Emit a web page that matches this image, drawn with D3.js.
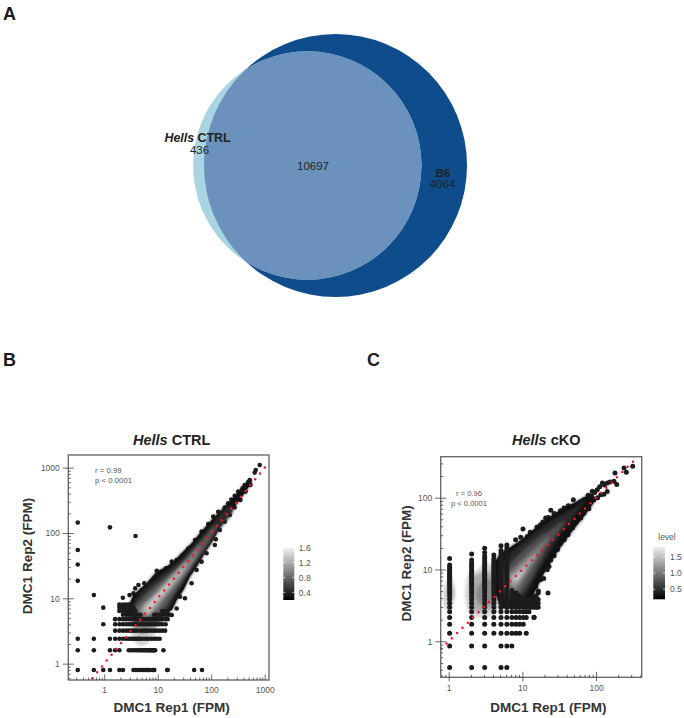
<!DOCTYPE html>
<html><head><meta charset="utf-8">
<script src="https://cdn.jsdelivr.net/npm/d3@7"></script>
<style>html,body{margin:0;padding:0;background:#fff}svg{display:block}text{font-family:"Liberation Sans",Arial,sans-serif}</style>
</head><body><svg id="c" width="684" height="718"></svg>
<script>
// ---------- Venn ----------
const vennOnlyCtrl = 436, vennShared = 10697, vennOnlyB6 = 4064;

// ---------- Hells CTRL (FPM) ----------
const ctrlXDomain = [0.213, 1203], ctrlYDomain = [0.562, 1563];
const ctrlRowY = [0.8, 1.6, 2.4, 3.2, 4, 4.8, 5.6, 6.4, 7.2, 8];
const ctrlRowX = [
 [0.32,0.64,0.96,1.28,1.92,2.24,3.52,3.84,4.16,4.48,4.8,5.12,5.44,5.76,6.08,6.4,6.72,7.04,8,8.32,8.64,15.04,15.36,48,67.2],
 [0.32,0.64,1.28,1.6,1.92,2.88,3.2,3.52,3.84,4.16,4.48,4.8,5.12,5.44,5.76,6.08,6.4,6.72,7.04,7.36,7.68,8,8.32,8.64,8.96,12.8],
 [0.32,0.64,1.28,1.6,1.92,2.24,2.56,2.88,3.2,3.52,3.84,4.16,4.48,4.8,5.44,6.08,6.72,7.68,8.64,9.6,10.88],
 [1.6,1.92,2.24,2.56,2.88,3.2,3.52,3.84,4.16,4.8,5.44,6.08,6.72,7.68,8.64,9.6,10.88,12.16,13.76],
 [0.96,1.6,1.92,2.24,2.56,2.88,3.2,3.52,3.84,4.16,4.8,5.44,6.08,6.72,7.68,8.64,9.6,10.88,12.16,14.08],
 [1.6,1.92,2.24,2.56,2.88,3.2,3.52,3.84,4.16,4.8,5.44,6.08,6.72,7.68,8.64,9.6,10.88,12.16,13.76,15.36],
 [2.24,2.56,2.88,3.2,3.52,3.84,4.16,4.8,8.64,9.6,10.88,12.16,13.76,15.36,17],
 [1.92,2.24,2.56,2.88,3.2,3.52,3.84,12.16,13.76,15.36],
 [1.92,2.24,2.56,2.88,3.2,3.52],
 [1.92,2.24,2.56,2.88,3.2]
];
const ctrlEdge = [[0.32,145],[0.32,55],[0.32,33],[0.32,18.5],[1.28,122],[3.84,90],[0.64,11.2],[0.96,7.2],[2.23,10.2],
 [2.97,11.2],[3.52,11.9],[3.79,14.2],[4.36,16],[5.03,13.4],[5.6,17],[7.2,17.3],[9.58,26.4],[11.05,22.8],[14.3,28.8],[18.3,36.4],[22.6,38.6],[29.3,46],[37.3,58],[49.8,78],[66,105],[88,137],[109,178],[135,212],[179,245],[207,284],[238,326],[275,372],[320,430],[385,485],[422,540],[490,600],[525,647],
 [18.3,5.56],[22.6,7],[32.3,10],[26.1,10.6],[43,17],[53.3,27.2],[66,36.4],[81.8,48.9],[117,65.5],[122,80],[145,111],[179,149],[223,189],[275,246],[352,320],[440,430],[543,543],
 [680,921],[807,1100],[650,840]];
const ctrlBlack = [[2.84,7.45],[3.52,11.2],[6.24,17],[9.58,25.6],[14.7,30.5],[19.6,36.4],[26.1,46],[34.7,58.2],[46.2,73.7],[61.5,99],[81.8,128],[109,168],[145,212],[193,268],[257,340],[342,455],[455,576],[565,662],[565,576],[455,455],[342,320],[257,239],[193,178],[145,125],[109,78],[81.8,55],[53.3,30.5],[40,21.5],[30.1,13.4],[22.6,9.4],[18.3,6.6],[11,5.6],[4.69,5.6],[3.28,5.6]];
const ctrlLobes = [
 {shade:"#d2d2d2", pts:[[3.28,3.47],[4.69,4.66],[9.58,4.66],[9.58,3.47],[8.3,2.59],[6.24,2],[5.03,1.86],[4.06,2],[3.28,2.59]]},
 {shade:"#9a9a9a", pts:[[3.52,4.66],[6.24,5.24],[11.05,4.66],[9.58,3.68],[6.24,2.91],[4.69,2.78],[3.7,3.47]]},
 {shade:"#555555", pts:[[3.15,5.24],[11.05,5.9],[12.8,4.66],[8.3,4],[5.41,3.68],[3.7,4.14]]}];
const ctrlLevels = [
 {shade:"#2a2a2a", pts:[[3.05,6.25],[4.69,11.9],[9.58,20.2],[26.1,38.6],[81.8,105],[223,268],[257,225],[109,88],[46.2,30.5],[22.6,11.9],[12.8,5.56],[4.69,5.24]]},
 {shade:"#555555", pts:[[3.52,6.6],[5.41,10.6],[11.05,18],[26.1,32.4],[71,82.9],[126,133],[94.4,73.7],[40,27.2],[19.6,11.2],[11.05,5.9],[5.41,4.94]]},
 {shade:"#808080", pts:[[4.36,6.6],[7.2,10.6],[14.7,19.1],[34.7,38.6],[61.5,65.5],[46.2,36.4],[26.1,19.1],[14.7,10.6],[8.9,6.25],[5.41,5.24]]},
 {shade:"#a8a8a8", pts:[[5.03,6.6],[9.58,11.9],[19.6,22.8],[34.7,36.4],[30.1,25.6],[17,14.2],[9.58,7.9],[6.24,5.56]]},
 {shade:"#c8c8c8", pts:[[6.06,7],[11.05,12.6],[19.6,20.2],[14.7,13.4],[8.9,8.4],[6.7,5.9]]}];
const ctrlXTicks = [1,10,100,1000], ctrlYTicks = [1,10,100,1000];
const ctrlLegendTicks = [0.4,0.8,1.2,1.6], ctrlLegendDomain = [0.195,1.59];

// ---------- Hells cKO (FPM) ----------
const koXDomain = [0.779, 417], koYDomain = [0.315, 372];
const koColX = [1.03,2.05,3.08,4.1,5.13,6.16,7.2,8.2,9.2,10.3,11.3,12.3,13.3,14.4,15.4,16.4];
const koColY = [
 [0.43,0.86,1.29,1.73,2.14,2.57,2.98,3.39,3.83,4.26,4.69,5.1,5.55,6,6.4,6.8,7.3,7.7,8.1,8.5,9,9.4,10,10.7,11.5,14.2],
 [0.43,0.86,1.29,1.73,2.14,2.57,2.98,3.39,3.83,4.26,4.69,5.1,5.55,6,6.4,6.8,7.3,7.7,8.1,8.5,9,9.4,10,10.7,11.5,12.3,13.6,16.4],
 [0.43,0.86,1.29,1.73,2.14,2.57,2.98,3.39,3.83,4.26,4.69,5.1,5.55,6,6.4,6.8,7.3,7.7,8.1,8.5,9,9.4,10,10.7,11.5,12.3,13.2,14.2,15.4,17.2,19.8],
 [1.29,1.73,2.14,2.57,2.98,3.39,3.83,4.26,4.69,5.1,5.55,6,6.4,6.8,7.3,7.7,8.1,8.5,9,9.4,10,10.7,11.5,12.3,13.2,14.2,15.9],
 [0.43,0.86,1.29,1.73,2.14,2.57,2.98,3.39,3.83,4.26,4.69,5.1,5.55,6,6.4,6.8,7.3,7.7,8.1,8.5,9,9.4,10,10.7,11.5,12.3,13.2,14.2,15.4,16.8,18.4,21.4],
 [0.43,0.86,1.29,1.73,2.14,2.57,2.98,3.39,3.83,4.26,4.69,5.1,5.55,6,6.4,6.8,7.3,7.7,8.1,8.5,9,9.4,10,10.7,11.5,12.3,13.2,14.2,15.4,16.8,18.4,20,22],
 [0.86,1.29,1.73,2.14,2.57,2.98,3.39,3.83,4.26,4.69,5.1],
 [1.29,1.73,2.14,2.57,2.98,3.39,3.83,4.26,4.69],
 [1.29,1.73,2.14,2.57,2.98,3.39,3.83,4.26],
 [1.73,2.14,2.57,2.98,3.39,3.83],
 [1.29,2.14,2.57,2.98,3.39,3.83],
 [2.57,2.98,3.39,3.83],
 [2.98,3.39,3.83],
 [2.14,2.98,3.39,3.83,4.26],
 [2.98,3.39,3.83,4.26],
 [2.98,3.39,3.83,4.69]];
const koEdge = [[10.2,36.5],[11.7,28.9],[14.4,32],[17.7,42],[20.7,52],[24.3,66.6],[31.5,59],[49.2,93.8],[36.8,71.8],[55.8,79.9],[68.7,93.8],[89,122.6],[104,129],[122,160],[142,160],[175,169],[181,221],[240,259],[258,226],[315,274],
 [8.1,26],[9.5,28],[12.8,33],[15.8,39],[19,46],[22.5,53],[27,60],[33,66],[42,77],[62,88],[78,108],[96,118],[112,142],[130,150],[155,165],
 [22.3,4.72],[16,3.05],[14.4,2.16],[13.7,4.2],[15.2,5.8],[17.7,7.2],[21.8,9.9],[24.3,13.6],[33.1,23.3],[41.7,30.5],[55.8,49.3],[68.7,61],[94,93.8],[116,110],[142,122],[191,152],
 [16.5,5],[19.5,7.5],[23,11],[27,15.5],[30,19],[37,26],[48,38],[62,52],[80,70],[105,100],[128,112]];
const koBlack = [[3.92,11],[5.08,16.9],[6.59,19.8],[10.5,27.4],[16,39.8],[24.3,55],[36.8,71.8],[55.8,88.9],[89.1,116],[98.9,93.8],[68.7,55],[45.3,32.1],[29.9,17.8],[19.7,8.9],[14.4,4.68],[11.1,3.39],[7.7,2.89],[5.08,2.89],[4.35,4.68]];
const koLobes = [
 {shade:"#d5d5d5", pts:[[1.04,8.4],[1.24,4.9],[1.09,2.74],[1.04,2.59],[0.88,2.89],[0.85,4.9]]},
 {shade:"#a8a8a8", pts:[[1.04,6.4],[1.16,4.8],[1.04,3.39],[0.94,4.8]]},
 {shade:"#d8d8d8", pts:[[1.67,5.2],[1.89,8.9],[2.33,9.4],[3.02,12.2],[4.12,11],[5.64,7.2],[5.08,2.74],[3.35,2.21],[2.1,2.21],[1.75,3.05]]},
 {shade:"#ababab", pts:[[1.89,5.2],[2.21,8],[3.02,9.4],[3.92,8.9],[5.08,5.8],[4.12,3.05],[3.02,2.59],[2.1,2.74]]},
 {shade:"#888888", pts:[[2.33,4.68],[3.02,7.2],[3.92,7.2],[4.58,5.2],[3.71,3.39],[2.72,3.2]]}];
const koLevels = [
 {shade:"#2a2a2a", pts:[[5.08,11],[6.95,16.9],[13,28.9],[24.3,46.7],[45.3,68],[70,90],[52,57.9],[33.1,31],[21.8,15.2],[14.4,7.2],[10.5,4.2],[6.95,3.39],[5.35,4.2]]},
 {shade:"#505050", pts:[[5.64,8.9],[7.7,13.6],[14.4,24.6],[26.9,38],[38,48],[32,36],[23,22.1],[16,11],[11.7,6.1],[8.55,4.2],[6.25,4.2]]},
 {shade:"#787878", pts:[[6.25,8],[8.55,11.6],[16,20.9],[24,29],[20,22.1],[14.4,12.2],[10.5,7.2],[8.12,4.9],[6.59,5.2]]},
 {shade:"#a0a0a0", pts:[[6.73,7.6],[9.01,10.4],[14,15.5],[16,16.5],[13,12.2],[9.49,7.2],[7.7,5.8]]},
 {shade:"#c0c0c0", pts:[[7.32,7.6],[9.49,9.4],[11.1,10.4],[9.49,8],[8.12,6.8]]}];
const koXTicks = [1,10,100], koYTicks = [1,10,100];
const koLegendTicks = [0.5,1.0,1.5], koLegendDomain = [0.19,1.81];

const svg = d3.select("#c");
const defs = svg.append("defs");
const blur = defs.append("filter").attr("id","soft").attr("x","-20%").attr("y","-20%").attr("width","140%").attr("height","140%");
blur.append("feGaussianBlur").attr("stdDeviation",1.6);
const txt = (g,x,y,s,o={})=>g.append("text").attr("x",x).attr("y",y).text(s)
  .attr("text-anchor",o.anchor||"middle").attr("font-size",o.size||11).attr("font-weight",o.weight||"normal")
  .attr("fill",o.fill||"#222");

// letters
[["A",3,20],["B",3,366],["C",367,366]].forEach(([s,x,y])=>txt(svg,x,y,s,{anchor:"start",size:18,weight:"bold",fill:"#1a1a1a"}));

// ---------- Venn drawing ----------
const rScale = d3.scaleSqrt().domain([0, vennOnlyB6+vennShared]).range([0,131.5]);
const rB6 = rScale(vennOnlyB6+vennShared), rCtrl = rScale(vennOnlyCtrl+vennShared);
defs.append("clipPath").attr("id","b6clip").append("circle").attr("cx",335.5).attr("cy",165.5).attr("r",rB6);
svg.append("circle").attr("cx",335.5).attr("cy",165.5).attr("r",rB6).attr("fill","#0e4c8c");
svg.append("circle").attr("cx",307.3).attr("cy",165.5).attr("r",rCtrl).attr("fill","#a9d5e3");
svg.append("circle").attr("cx",307.3).attr("cy",165.5).attr("r",rCtrl).attr("fill","#6b92bd").attr("clip-path","url(#b6clip)");
const hv = svg.append("text").attr("x",164.5).attr("y",142).attr("font-size",12.4).attr("font-weight","bold").attr("fill","#222");
hv.append("tspan").attr("font-style","italic").text("Hells");
hv.append("tspan").text(" CTRL");
txt(svg,199.5,153.5,d3.format("d")(vennOnlyCtrl),{size:11.5});
txt(svg,313,170,d3.format("d")(vennShared),{size:11.5});
txt(svg,443,176.5,"B6",{size:11.5,weight:"bold"});
txt(svg,442.5,187.5,d3.format("d")(vennOnlyB6),{size:11.5});

// ---------- scatter panels ----------
function panel(o){
  const x = d3.scaleLog().domain(o.xDomain).range([o.left,o.right]);
  const y = d3.scaleLog().domain(o.yDomain).range([o.bottom,o.top]);
  const g = svg.append("g");
  const cid = "clip"+o.id;
  defs.append("clipPath").attr("id",cid).append("rect").attr("x",o.left).attr("y",o.top).attr("width",o.right-o.left).attr("height",o.bottom-o.top);
  const blob = d3.line().x(d=>x(d[0])).y(d=>y(d[1])).curve(d3.curveCatmullRomClosed.alpha(0.5));
  const poly = d3.line().x(d=>x(d[0])).y(d=>y(d[1])).curve(d3.curveLinearClosed);
  const plot = g.append("g").attr("clip-path",`url(#${cid})`);

  const soft = plot.append("g").attr("filter","url(#soft)");
  soft.selectAll("path.lobe").data(o.lobes).join("path").attr("class","lobe").attr("d",d=>blob(d.pts)).attr("fill",d=>d.shade);
  soft.append("path").attr("d",poly(o.black)).attr("fill","#111");
  plot.selectAll("circle.edge").data(o.edge).join("circle").attr("class","edge")
    .attr("cx",d=>x(d[0])).attr("cy",d=>y(d[1])).attr("r",o.r).attr("fill","#1c1c1c");
  plot.append("path").attr("d",poly(o.black)).attr("fill","#111");
  const soft2 = plot.append("g").attr("filter","url(#soft)");
  soft2.selectAll("path.level").data(o.levels).join("path").attr("class","level").attr("d",d=>blob(d.pts)).attr("fill",d=>d.shade);
  plot.selectAll("circle.pt").data(o.grid).join("circle").attr("class","pt")
    .attr("cx",d=>x(d[0])).attr("cy",d=>y(d[1])).attr("r",o.r).attr("fill","#1c1c1c");

  // red dotted identity line
  plot.append("line").attr("x1",x(o.redFrom)).attr("y1",y(o.redFrom)).attr("x2",x(o.redTo)).attr("y2",y(o.redTo))
    .attr("stroke","#ff1420").attr("stroke-width",2.5).attr("stroke-linecap","round").attr("stroke-dasharray","0 "+o.redGap);

  // frame
  g.append("rect").attr("x",o.left).attr("y",o.top).attr("width",o.right-o.left).attr("height",o.bottom-o.top)
    .attr("fill","none").attr("stroke","#6b6b6b").attr("stroke-width",1.4);

  const style = a=>{a.select(".domain").remove();a.selectAll("line").attr("stroke","#444").attr("stroke-width",0.8);
    a.selectAll("text").attr("fill","#555").attr("font-size",8.5).attr("font-family",'"Liberation Sans",Arial,sans-serif');};
  const fmt = d3.format("d");
  const minorX = x.ticks().filter(d=>!o.xTicks.includes(d)), minorY = y.ticks().filter(d=>!o.yTicks.includes(d));
  g.append("g").attr("transform",`translate(0,${o.bottom})`).call(d3.axisBottom(x).tickValues(minorX).tickFormat("").tickSizeOuter(0).tickSize(-2.5)).call(style);
  g.append("g").attr("transform",`translate(${o.left},0)`).call(d3.axisLeft(y).tickValues(minorY).tickFormat("").tickSizeOuter(0).tickSize(-2.5)).call(style);
  g.append("g").attr("transform",`translate(0,${o.bottom})`).call(d3.axisBottom(x).tickValues(o.xTicks).tickFormat("").tickSizeOuter(0).tickSize(-5.5)).call(style);
  g.append("g").attr("transform",`translate(0,${o.bottom})`).call(d3.axisBottom(x).tickValues(o.xTicks).tickFormat(fmt).tickSizeOuter(0).tickSize(o.xOut).tickPadding(o.xPad)).call(style);
  g.append("g").attr("transform",`translate(${o.left},0)`).call(d3.axisLeft(y).tickValues(o.yTicks).tickFormat("").tickSizeOuter(0).tickSize(-5.5)).call(style);
  g.append("g").attr("transform",`translate(${o.left},0)`).call(d3.axisLeft(y).tickValues(o.yTicks).tickFormat(fmt).tickSizeOuter(0).tickSize(5.5).tickPadding(3)).call(style);

  // title + labels
  const t = g.append("text").attr("x",o.titleX).attr("y",445).attr("text-anchor","middle").attr("font-size",14.5).attr("font-weight","bold").attr("fill","#222");
  t.append("tspan").attr("font-style","italic").text("Hells");
  t.append("tspan").text(" "+o.name);
  txt(g,o.xLabelX,711.5,"DMC1 Rep1 (FPM)",{size:13.5,weight:"bold",fill:"#333"});
  g.append("text").attr("transform",`translate(${o.yLabelX},${o.yLabelY}) rotate(-90)`).attr("text-anchor","middle")
    .attr("font-size",13.5).attr("font-weight","bold").attr("fill","#333").text("DMC1 Rep2 (FPM)");
  o.stats.forEach(s=>txt(g,s[0],s[1],s[2],{size:o.statSize,fill:"#555",anchor:o.statAnchor}));

  // legend
  const lv = d3.scaleLinear().domain(o.legDomain).range([o.legBottom,o.legTop]);
  const shade = d3.scaleLinear().domain(o.legDomain).range(["#000000","#f0f0f0"]);
  const gid = "grad"+o.id;
  const gr = defs.append("linearGradient").attr("id",gid).attr("x1",0).attr("x2",0).attr("y1",1).attr("y2",0);
  gr.selectAll("stop").data(o.legDomain).join("stop").attr("offset",(d,i)=>i).attr("stop-color",d=>shade(d));
  g.append("rect").attr("x",o.legLeft).attr("y",o.legTop).attr("width",o.legWidth).attr("height",o.legBottom-o.legTop).attr("fill",`url(#${gid})`);
  const la = g.append("g").attr("transform",`translate(${o.legLeft+o.legWidth},0)`)
    .call(d3.axisRight(lv).tickValues(o.legTicks).tickSize(0).tickPadding(o.legPad).tickFormat(d3.format(".1f")));
  la.select(".domain").remove();
  la.selectAll("text").attr("fill","#555").attr("font-size",8.5).attr("font-family",'"Liberation Sans",Arial,sans-serif');
  g.selectAll("line.lt").data(o.legTicks).join("line").attr("class","lt")
    .attr("x1",o.legLeft).attr("x2",o.legLeft+2).attr("y1",d=>lv(d)).attr("y2",d=>lv(d)).attr("stroke","#fff").attr("stroke-width",0.7);
  g.selectAll("line.rt").data(o.legTicks).join("line").attr("class","rt")
    .attr("x1",o.legLeft+o.legWidth-2).attr("x2",o.legLeft+o.legWidth).attr("y1",d=>lv(d)).attr("y2",d=>lv(d)).attr("stroke","#fff").attr("stroke-width",0.7);
  if(o.legTitle) txt(g,o.legTitleX,540,o.legTitle,{size:8.5,fill:"#555"});
}

panel({id:"B",name:"CTRL",xDomain:ctrlXDomain,yDomain:ctrlYDomain,left:68.3,right:269,top:455,bottom:680,r:2.3,
  lobes:ctrlLobes,black:ctrlBlack,levels:ctrlLevels,edge:ctrlEdge,
  grid:ctrlRowY.flatMap((v,i)=>ctrlRowX[i].map(u=>[u,v])),
  xTicks:ctrlXTicks,yTicks:ctrlYTicks,xOut:0,xPad:7,redFrom:0.6,redTo:1200,redGap:7.56,
  titleX:171.7,xLabelX:171.7,yLabelX:31.5,yLabelY:556,
  stats:[[95,473,"r = 0.99"],[95,483,"p < 0.0001"]],statSize:7.8,statAnchor:"start",
  legDomain:ctrlLegendDomain,legTicks:ctrlLegendTicks,legTop:548,legBottom:600,legLeft:283.3,legWidth:11,legPad:4.5});
panel({id:"C",name:"cKO",xDomain:koXDomain,yDomain:koYDomain,left:440.7,right:641.7,top:456.7,bottom:677.3,r:2.5,
  lobes:koLobes,black:koBlack,levels:koLevels,edge:koEdge,
  grid:koColX.flatMap((u,i)=>koColY[i].map(v=>[u,v])),
  xTicks:koXTicks,yTicks:koYTicks,xOut:4,xPad:4,redFrom:0.79,redTo:350,redGap:7.44,
  titleX:546.3,xLabelX:548.5,yLabelX:410.5,yLabelY:563.3,
  stats:[[469,495.5,"r = 0.96"],[469,506,"p < 0.0001"]],statSize:7.6,statAnchor:"middle",
  legDomain:koLegendDomain,legTicks:koLegendTicks,legTop:546.7,legBottom:599.3,legLeft:653.3,legWidth:11.7,legPad:5,legTitle:"level",legTitleX:667});
</script></body></html>
